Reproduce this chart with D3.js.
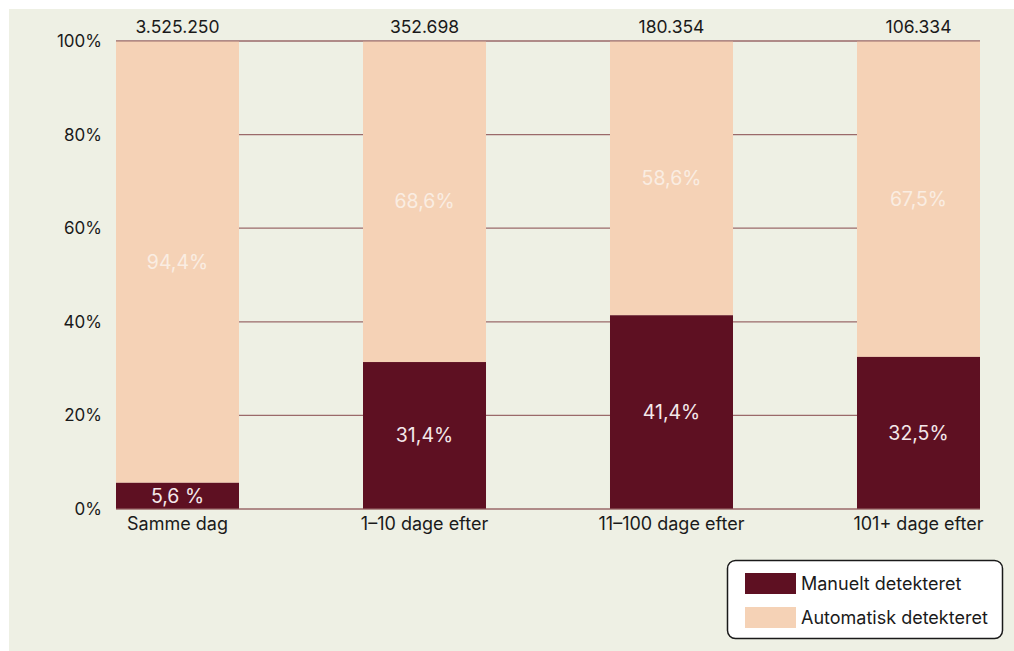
<!DOCTYPE html>
<html><head><meta charset="utf-8">
<script src="https://cdn.jsdelivr.net/npm/d3@7"></script>
<style>body{margin:0;background:#fff}svg{display:block}text{font-family:Inter,"Open Sans",sans-serif}</style>
</head><body>
<svg id="c" width="1014" height="651"></svg>
<script>
const categories = ["Samme dag", "1–10 dage efter", "11–100 dage efter", "101+ dage efter"];
const totals = ["3.525.250", "352.698", "180.354", "106.334"];
const manual = [5.6, 31.4, 41.4, 32.5];
const automatic = [94.4, 68.6, 58.6, 67.5];
const manualLabels = ["5,6 %", "31,4%", "41,4%", "32,5%"];
const autoLabels = ["94,4%", "68,6%", "58,6%", "67,5%"];
const yTicks = [0, 20, 40, 60, 80, 100];
const seriesNames = ["Manuelt detekteret", "Automatisk detekteret"];

const dark = "#5E1022", light = "#F5D2B6", bg = "#EEF0E4", grid = "#9A6A6A";
const svg = d3.select("#c");
svg.append("rect").attr("x",9).attr("y",9).attr("width",1005).attr("height",642).attr("fill",bg);

const x = d3.scaleBand().domain(categories).range([116,980]).paddingInner(0.502).paddingOuter(0);
const y = d3.scaleLinear().domain([0,100]).range([509,41]);

// gridlines
svg.append("g").selectAll("line").data(yTicks).join("line")
  .attr("x1",116).attr("x2",980).attr("y1",d=>y(d)).attr("y2",d=>y(d))
  .attr("stroke",grid).attr("stroke-width",1.2);

// y axis labels
const yAxis = d3.axisLeft(y).tickValues(yTicks).tickFormat(d=>d+"%").tickSize(0).tickPadding(0);
const ga = svg.append("g").attr("transform","translate(102,0)").call(yAxis);
ga.select(".domain").remove();
ga.selectAll("text").attr("font-size",17).attr("fill","#1a1a1a").attr("font-family","Inter,sans-serif");

const data = categories.map((c,i)=>({c,m:manual[i],a:automatic[i],ml:manualLabels[i],al:autoLabels[i],t:totals[i]}));

// automatic (top)
svg.append("g").selectAll("rect").data(data).join("rect")
  .attr("x",d=>x(d.c)).attr("width",x.bandwidth())
  .attr("y",d=>y(d.m+d.a)).attr("height",d=>y(d.m)-y(d.m+d.a)).attr("fill",light);
// manual (bottom)
svg.append("g").selectAll("rect").data(data).join("rect")
  .attr("x",d=>x(d.c)).attr("width",x.bandwidth())
  .attr("y",d=>y(d.m)).attr("height",d=>y(0)-y(d.m)).attr("fill",dark);

// baseline and top line over bars
svg.append("line").attr("x1",116).attr("x2",980).attr("y1",y(100)).attr("y2",y(100)).attr("stroke",grid).attr("stroke-width",1.2);
svg.append("line").attr("x1",116).attr("x2",980).attr("y1",y(0)).attr("y2",y(0)).attr("stroke",grid).attr("stroke-width",1.2);

// labels
const lab = svg.append("g").attr("font-size",19.5).attr("text-anchor","middle");
lab.selectAll(".ml").data(data).join("text")
  .attr("x",d=>x(d.c)+x.bandwidth()/2).attr("y",d=>y(d.m/2)).attr("dy","0.35em")
  .attr("fill","#F4E8EA").text(d=>d.ml);
lab.selectAll(".al").data(data).join("text")
  .attr("x",d=>x(d.c)+x.bandwidth()/2).attr("y",d=>y(d.m+d.a/2)).attr("dy","0.35em")
  .attr("fill","#FAEDE2").text(d=>d.al);
lab.selectAll(".tl").data(data).join("text")
  .attr("x",d=>x(d.c)+x.bandwidth()/2).attr("y",33)
  .attr("font-size",17.5).attr("fill","#1a1a1a").text(d=>d.t);

// x axis labels
const xAxis = d3.axisBottom(x).tickSize(0).tickPadding(0);
const gx = svg.append("g").attr("transform","translate(0,517)").call(xAxis);
gx.select(".domain").remove();
gx.selectAll("text").attr("font-size",18).attr("fill","#1a1a1a").attr("font-family","Inter,sans-serif").attr("dy","0.71em");

// legend
const lg = svg.append("g");
lg.append("rect").attr("x",727.5).attr("y",560.5).attr("width",275).attr("height",78).attr("rx",8)
  .attr("fill","#fff").attr("stroke","#1a1a1a").attr("stroke-width",1.5);
[dark, light].forEach((col,i)=>{
  lg.append("rect").attr("x",745).attr("y",573+i*34).attr("width",51).attr("height",21).attr("fill",col);
  lg.append("text").attr("x",801).attr("y",584+i*34).attr("dy","0.35em").attr("font-size",18).attr("fill","#1a1a1a").text(seriesNames[i]);
});
</script>
</body></html>
